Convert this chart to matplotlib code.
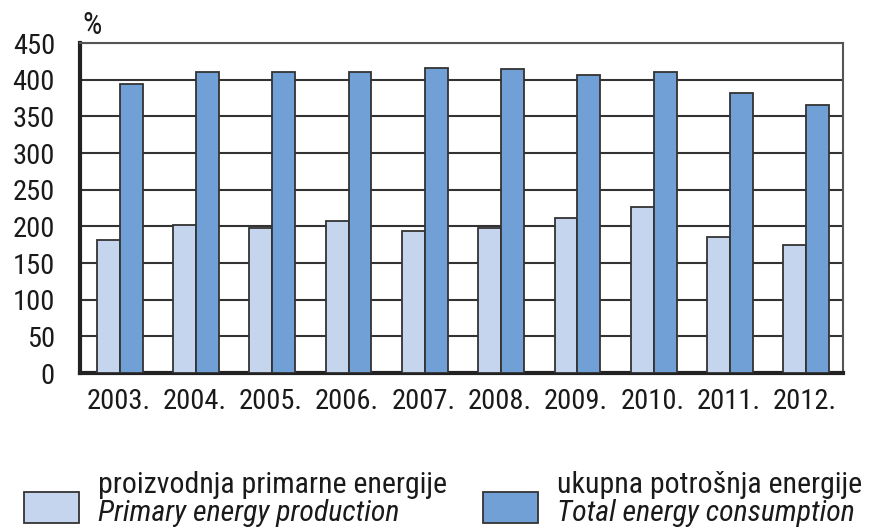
import matplotlib.pyplot as plt
import matplotlib as mpl
import numpy as np
from matplotlib.patches import Rectangle

years = ["2003.", "2004.", "2005.", "2006.", "2007.", "2008.", "2009.", "2010.", "2011.", "2012."]
production = [182, 202, 198, 207, 194, 198, 212, 227, 185, 175]
consumption = [394, 411, 411, 411, 416, 414, 407, 411, 382, 365]

label_prod = ("proizvodnja primarne energije", "Primary energy production")
label_cons = ("ukupna potrošnja energije", "Total energy consumption")

light = "#c5d5ee"
dark = "#70a0d5"
edge = "#333333"
txt = "#1a1a1a"

plt.rcParams['font.family'] = ['Roboto Condensed', 'Liberation Sans', 'DejaVu Sans']

fig = plt.figure(figsize=(8.7, 5.32), dpi=100)
ax = fig.add_axes([80 / 870, 1 - 373 / 532, 763 / 870, 330 / 532])

x = np.arange(len(years))
w = 0.3
ax.bar(x - w / 2 + 0.02, production, width=w, color=light, edgecolor=edge, linewidth=1.3, zorder=3)
ax.bar(x + w / 2 + 0.02, consumption, width=w, color=dark, edgecolor=edge, linewidth=1.3, zorder=3)

ax.set_xlim(-0.5, len(years) - 0.5)
ax.set_ylim(0, 450)
ax.set_yticks(np.arange(0, 451, 50))
ax.yaxis.grid(True, color="#333333", linewidth=1.5, zorder=0)
ax.set_axisbelow(True)

ax.set_xticks(x)
ax.set_xticklabels(years, fontsize=20.5, color=txt)
ax.tick_params(axis="y", labelsize=20.5, labelcolor=txt, length=0, pad=18)
ax.tick_params(axis="x", length=0, pad=11)

for s in ["left", "bottom"]:
    ax.spines[s].set_linewidth(3)
    ax.spines[s].set_color("#222222")
for s in ["top", "right"]:
    ax.spines[s].set_linewidth(1.5)
    ax.spines[s].set_color("#555555")

fig.text(82 / 870, 1 - 25 / 532, "%", fontsize=22, va="center", ha="left", color=txt)

# legend drawn by hand
for x0, col, labs in [(24, light, label_prod), (483, dark, label_cons)]:
    fig.patches.append(Rectangle((x0 / 870, 1 - 523 / 532), 55 / 870, 31 / 532,
                                 transform=fig.transFigure, facecolor=col,
                                 edgecolor=edge, linewidth=1.3))
    tx = (x0 + 74) / 870
    fig.text(tx, 1 - 485 / 532, labs[0], fontsize=21.5, va="center", ha="left", color=txt)
    fig.text(tx, 1 - 513 / 532, labs[1], fontsize=21.5, va="center", ha="left",
             style="italic", color=txt)

fig.savefig("out.png", dpi=100)
